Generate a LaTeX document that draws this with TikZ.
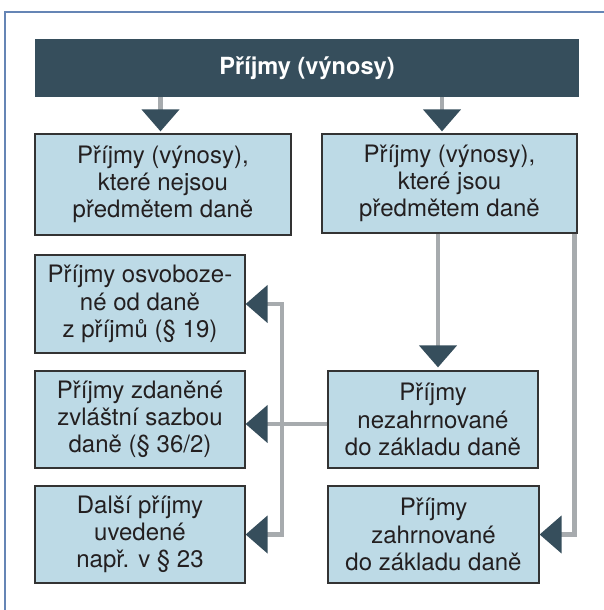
\documentclass[tikz,border=0pt]{standalone}
\usepackage{fontspec}
\setmainfont{TeX Gyre Heros}
\usepackage{xcolor}
\usetikzlibrary{positioning,arrows.meta}
\definecolor{headblue}{HTML}{364E5C}
\definecolor{boxblue}{HTML}{BDDAE6}
\definecolor{linegray}{HTML}{A7ABAE}
\definecolor{frameblue}{HTML}{6585B5}
\definecolor{textdark}{HTML}{231F20}

\begin{document}
\begin{tikzpicture}[x=0.5pt, y=-0.5pt,
    >={Triangle[width=18.5pt, length=11pt, color=headblue]},
    box/.style={draw=black!80, fill=boxblue, line width=0.6pt, align=center,
        inner sep=0pt, text=textdark, font=\fontsize{12}{13.6}\selectfont},
    head/.style={fill=headblue, text=white, inner sep=0pt,
        font=\bfseries\fontsize{11.8}{13.6}\selectfont},
    flow/.style={draw=linegray, line width=2.25pt, ->}]
    \useasboundingbox (0,0) rectangle (604,610);
    \draw[frameblue, line width=1pt] (5,610) -- (5,12) -- (604,12);

    % top bar
    \node[head, minimum width=272pt, minimum height=29pt] (head) at (307,68) {Příjmy (výnosy)};

    % second row
    \node[box, minimum width=128pt, minimum height=50.5pt] (nejsou) at (163,184.5)
        {Příjmy (výnosy),\\ které nejsou\\ předmětem daně};
    \node[box, minimum width=127.5pt, minimum height=49.5pt] (jsou) at (449.5,183.5)
        {Příjmy (výnosy),\\ které jsou\\ předmětem daně};

    % left column
    \node[box, minimum width=105pt, minimum height=49pt] (osvob) at (140,304)
        {Příjmy osvoboze-\\ né od daně\\ z příjmů (§ 19)};
    \node[box, minimum width=105pt, minimum height=48.5pt] (zvlast) at (140,419.5)
        {Příjmy zdaněné\\ zvláštní sazbou\\ daně (§ 36/2)};
    \node[box, minimum width=105pt, minimum height=48.5pt] (dalsi) at (140,534.5)
        {Další příjmy\\ uvedené\\ např. v § 23};

    % right column
    \node[box, minimum width=105pt, minimum height=48.5pt] (nezahr) at (433,419.5)
        {Příjmy\\ nezahrnované\\ do základu daně};
    \node[box, minimum width=105.5pt, minimum height=48.5pt] (zahr) at (433.5,534.5)
        {Příjmy\\ zahrnované\\ do základu daně};

    % connectors
    \coordinate (tnejsou) at ([xshift=-1.25pt]nejsou.north);
    \coordinate (tjsou) at ([xshift=-3.75pt]jsou.north);
    \coordinate (tnezahr) at ([xshift=2.5pt]nezahr.north);
    \coordinate (rside) at ([xshift=-1.5pt]jsou.south east);
    \coordinate (bus) at (282,0);

    \draw[flow, shorten >=1pt] (head.south -| tnejsou) -- (tnejsou);
    \draw[flow, shorten >=1pt] (head.south -| tjsou) -- (tjsou);
    \draw[flow, shorten >=1.5pt] (jsou.south -| tnezahr) -- (tnezahr);
    \draw[flow] (rside) |- (zahr.east);
    \draw[flow] ([yshift=-2.25pt]nezahr.west) -- ([yshift=-2.25pt]zvlast.east);
    \draw[flow, <->] (osvob.east) -- (osvob.east -| bus) -- (dalsi.east -| bus) -- (dalsi.east);
\end{tikzpicture}
\end{document}
